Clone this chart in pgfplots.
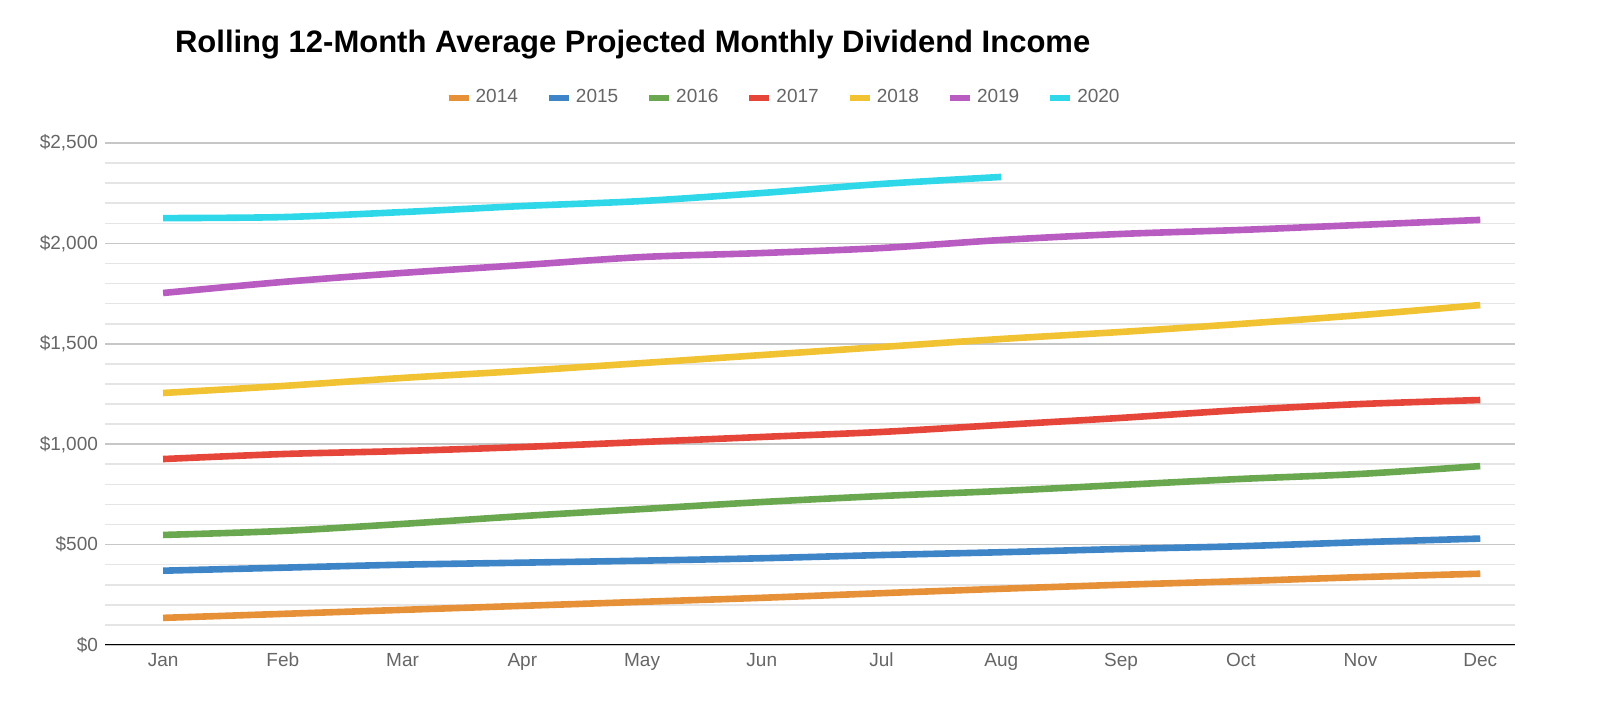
\documentclass[border=0pt]{standalone}
\usepackage{pgfplots}
\pgfplotsset{compat=1.18}
\usepackage{fontspec}
\setmainfont{Liberation Sans}
\definecolor{c14}{HTML}{E69138}
\definecolor{c15}{HTML}{3D85C6}
\definecolor{c16}{HTML}{6AA84F}
\definecolor{c17}{HTML}{E6453A}
\definecolor{c18}{HTML}{F1C232}
\definecolor{c19}{HTML}{B85CC2}
\definecolor{c20}{HTML}{2ED8E8}
\definecolor{tk}{HTML}{666666}
\begin{document}
\begin{tikzpicture}
\path[use as bounding box] (0,0) rectangle (800pt,358.5pt);
\begin{axis}[at={(52.5pt,36pt)}, anchor=south west, scale only axis,
 width=705pt, height=251pt,
 xmin=-0.485, xmax=11.29, ymin=0, ymax=2500,
 xtick={0,...,11}, xticklabels={Jan,Feb,Mar,Apr,May,Jun,Jul,Aug,Sep,Oct,Nov,Dec},
 ytick={0,500,...,2500}, minor ytick={100,200,...,2400},
 yticklabel={\$\pgfmathprintnumber{\tick}},
 /pgf/number format/assume math mode=true,
 /pgf/number format/1000 sep={,},
 ymajorgrids, yminorgrids,
 major grid style={draw=black!22, line width=0.8pt},
 minor grid style={draw=black!10, line width=0.8pt},
 axis line style={draw=none},
 tick style={draw=none},
 ticklabel style={font=\fontsize{9.5}{10}\selectfont, text=tk},
 typeset ticklabels with strut,
 every axis plot/.append style={line width=3.3pt, smooth, no markers},
 legend style={at={(0.482,1.09)}, anchor=center, draw=none, font=\fontsize{9.5}{10}\selectfont, text=tk,
  legend columns=-1, /tikz/every even column/.append style={column sep=12pt}},
 legend image code/.code={\draw[#1, line width=3pt] (0pt,0pt) -- (10pt,0pt);},
]
\draw[black, line width=0.9pt] (axis cs:-0.485,0) -- (axis cs:11.29,0);
\addplot[c14] coordinates {(0,135)(1,155)(2,175)(3,195)(4,215)(5,235)(6,258)(7,280)(8,300)(9,318)(10,338)(11,355)};
\addplot[c15] coordinates {(0,370)(1,385)(2,400)(3,410)(4,420)(5,432)(6,448)(7,462)(8,478)(9,492)(10,512)(11,530)};
\addplot[c16] coordinates {(0,548)(1,568)(2,603)(3,642)(4,677)(5,712)(6,742)(7,767)(8,797)(9,827)(10,852)(11,891)};
\addplot[c17] coordinates {(0,926)(1,951)(2,966)(3,986)(4,1011)(5,1036)(6,1061)(7,1096)(8,1131)(9,1170)(10,1200)(11,1220)};
\addplot[c18] coordinates {(0,1255)(1,1290)(2,1330)(3,1365)(4,1404)(5,1444)(6,1484)(7,1524)(8,1559)(9,1599)(10,1643)(11,1693)};
\addplot[c19] coordinates {(0,1753)(1,1808)(2,1853)(3,1892)(4,1932)(5,1952)(6,1977)(7,2017)(8,2047)(9,2067)(10,2092)(11,2117)};
\addplot[c20] coordinates {(0,2126)(1,2131)(2,2156)(3,2186)(4,2211)(5,2251)(6,2296)(7,2331)};
\legend{2014,2015,2016,2017,2018,2019,2020}
\end{axis}
\node[anchor=west, font=\bfseries\fontsize{15.5}{17}\selectfont] at (84pt,336pt) {Rolling 12-Month Average Projected Monthly Dividend Income};
\end{tikzpicture}
\end{document}
